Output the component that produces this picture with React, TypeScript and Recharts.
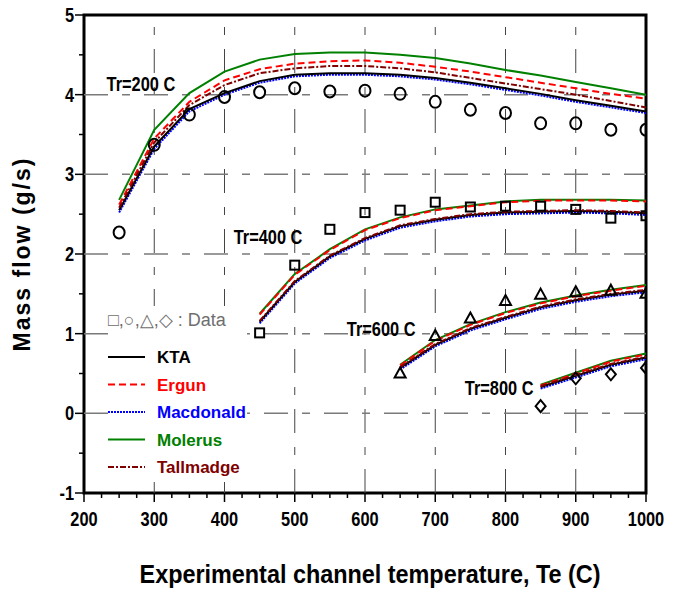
import {
  ComposedChart,
  Line,
  Scatter,
  XAxis,
  YAxis,
  ReferenceLine,
  ReferenceArea,
  ReferenceDot,
  Legend,
  Label,
} from 'recharts'

// experimental channel temperature for each reservoir temperature run
const TE_200 = [250, 300, 350, 400, 450, 500, 550, 600, 650, 700, 750, 800, 850, 900, 950, 1000]
const TE_400 = [450, 500, 550, 600, 650, 700, 750, 800, 850, 900, 950, 1000]
const TE_600 = [650, 700, 750, 800, 850, 900, 950, 1000]
const TE_800 = [850, 900, 950, 1000]

// model curves, Tr=200 C
const KTA_200 = [2.55, 3.35, 3.82, 4.02, 4.17, 4.25, 4.27, 4.27, 4.25, 4.21, 4.15, 4.08, 4.01, 3.93, 3.86, 3.79]
const MAC_200 = [2.52, 3.32, 3.79, 4.0, 4.15, 4.23, 4.25, 4.25, 4.23, 4.19, 4.13, 4.06, 3.99, 3.91, 3.84, 3.77]
const TALL_200 = [2.58, 3.4, 3.87, 4.12, 4.27, 4.33, 4.36, 4.36, 4.33, 4.28, 4.21, 4.14, 4.07, 4.0, 3.92, 3.84]
const ERG_200 = [2.62, 3.45, 3.91, 4.18, 4.32, 4.39, 4.42, 4.43, 4.4, 4.35, 4.29, 4.22, 4.15, 4.08, 4.01, 3.95]
const MOL_200 = [2.68, 3.56, 4.02, 4.29, 4.44, 4.51, 4.53, 4.53, 4.5, 4.46, 4.39, 4.31, 4.24, 4.16, 4.08, 4.0]

// Tr=400 C
const KTA_400 = [1.15, 1.65, 1.97, 2.19, 2.35, 2.43, 2.49, 2.52, 2.53, 2.54, 2.53, 2.51]
const MAC_400 = [1.13, 1.63, 1.95, 2.17, 2.33, 2.41, 2.47, 2.5, 2.51, 2.52, 2.51, 2.49]
const TALL_400 = [1.16, 1.66, 1.98, 2.2, 2.36, 2.44, 2.5, 2.53, 2.54, 2.55, 2.54, 2.52]
const ERG_400 = [1.24, 1.74, 2.05, 2.3, 2.45, 2.55, 2.6, 2.65, 2.67, 2.67, 2.67, 2.66]
const MOL_400 = [1.25, 1.75, 2.06, 2.31, 2.46, 2.56, 2.61, 2.66, 2.68, 2.68, 2.68, 2.67]

// Tr=600 C
const KTA_600 = [0.57, 0.86, 1.06, 1.2, 1.33, 1.42, 1.49, 1.54]
const MAC_600 = [0.55, 0.84, 1.04, 1.18, 1.31, 1.4, 1.47, 1.52]
const TALL_600 = [0.58, 0.87, 1.07, 1.21, 1.34, 1.43, 1.5, 1.55]
const ERG_600 = [0.6, 0.91, 1.11, 1.26, 1.38, 1.47, 1.54, 1.6]
const MOL_600 = [0.61, 0.92, 1.12, 1.27, 1.39, 1.48, 1.55, 1.61]

// Tr=800 C
const KTA_800 = [0.33, 0.47, 0.61, 0.7]
const MAC_800 = [0.31, 0.45, 0.59, 0.68]
const TALL_800 = [0.34, 0.48, 0.62, 0.71]
const ERG_800 = [0.35, 0.5, 0.65, 0.74]
const MOL_800 = [0.36, 0.51, 0.66, 0.75]

// measured data
const DATA_200 = [2.27, 3.37, 3.75, 3.97, 4.03, 4.08, 4.04, 4.05, 4.01, 3.91, 3.81, 3.77, 3.64, 3.64, 3.56, 3.56]
const DATA_400 = [1.01, 1.86, 2.31, 2.52, 2.55, 2.65, 2.59, 2.6, 2.6, 2.56, 2.45, 2.48]
const DATA_600 = [0.5, 0.97, 1.19, 1.41, 1.49, 1.52, 1.54, 1.5]
const DATA_800 = [0.09, 0.44, 0.49, 0.57]

const X_MAJOR = [200, 300, 400, 500, 600, 700, 800, 900, 1000]
const Y_TICKS = [-1, -0.5, 0, 0.5, 1, 1.5, 2, 2.5, 3, 3.5, 4, 4.5, 5]
const X_GRID = [300, 400, 500, 600, 700, 800, 900]
const Y_GRID = [0, 1, 2, 3, 4]

const SANS = "'Liberation Sans', Arial, sans-serif"

const seg = (te: number[], vals: number[]) => te.map((x, i) => ({ x, y: vals[i] }))
const GAP = { x: 1000, y: null }
const join = (...parts: { x: number; y: number | null }[][]) =>
  parts.reduce((acc, p, i) => (i === 0 ? [...p] : [...acc, GAP, ...p]), [] as { x: number; y: number | null }[])

const MODELS = [
  { name: 'Molerus', color: '#008000', dash: undefined, data: join(seg(TE_200, MOL_200), seg(TE_400, MOL_400), seg(TE_600, MOL_600), seg(TE_800, MOL_800)) },
  { name: 'Ergun', color: '#ff0000', dash: '7 4', data: join(seg(TE_200, ERG_200), seg(TE_400, ERG_400), seg(TE_600, ERG_600), seg(TE_800, ERG_800)) },
  { name: 'Macdonald', color: '#0000ff', dash: '2 1', data: join(seg(TE_200, MAC_200), seg(TE_400, MAC_400), seg(TE_600, MAC_600), seg(TE_800, MAC_800)) },
  { name: 'KTA', color: '#000000', dash: undefined, data: join(seg(TE_200, KTA_200), seg(TE_400, KTA_400), seg(TE_600, KTA_600), seg(TE_800, KTA_800)) },
  { name: 'Tallmadge', color: '#800000', dash: '6 2 2 2', data: join(seg(TE_200, TALL_200), seg(TE_400, TALL_400), seg(TE_600, TALL_600), seg(TE_800, TALL_800)) },
]

const LEGEND_ORDER = ['KTA', 'Ergun', 'Macdonald', 'Molerus', 'Tallmadge']

const X_TICKS = X_MAJOR.flatMap((t) => (t < 1000 ? [t, t + 25, t + 50, t + 75] : [t]))

// condensed bold text (no narrow face installed, so squeeze a regular one)
function NText({ x, y, size, sx = 0.82, anchor = 'middle', children }: any) {
  return (
    <text
      transform={`translate(${x},${y}) scale(${sx},1)`}
      textAnchor={anchor}
      fontFamily={SANS}
      fontWeight="bold"
      fontSize={size}
      fill="#000"
    >
      {children}
    </text>
  )
}

function XTick({ x, y, payload }: any) {
  const major = payload.value % 100 === 0
  return (
    <g>
      <line x1={x} y1={y} x2={x} y2={y + (major ? 9 : 5)} stroke="#000" strokeWidth={1.5} />
      {major && (
        <NText x={x} y={y + 33} size={20}>
          {payload.value}
        </NText>
      )}
    </g>
  )
}

function YTick({ x, y, payload }: any) {
  const major = Number.isInteger(payload.value)
  return (
    <g>
      <line x1={x - (major ? 9 : 5)} y1={y} x2={x} y2={y} stroke="#000" strokeWidth={1.5} />
      {major && (
        <NText x={x - 10} y={y + 7} size={20} anchor="end">
          {payload.value}
        </NText>
      )}
    </g>
  )
}

const marker = (kind: string) => (props: any) => {
  const { cx, cy } = props
  const s = { fill: 'none', stroke: '#000', strokeWidth: 2 }
  if (kind === 'circle') return <ellipse cx={cx} cy={cy} rx={5.5} ry={6} {...s} />
  if (kind === 'square') return <rect x={cx - 4.5} y={cy - 4.5} width={9} height={9} {...s} />
  if (kind === 'triangle') return <path d={`M${cx},${cy - 6} L${cx + 5.5},${cy + 4} L${cx - 5.5},${cy + 4} Z`} {...s} />
  return <path d={`M${cx},${cy - 6} L${cx + 5},${cy} L${cx},${cy + 6} L${cx - 5},${cy} Z`} {...s} />
}

function LegendBox() {
  return (
    <svg width={145} height={180} style={{ display: 'block' }}>
      <rect x={3} y={0} width={139} height={176} fill="#fff" />
      <text x={3} y={20} fontFamily={SANS} fontSize={18} fill="#6e6e6e">
        □,○,△,◇ : Data
      </text>
      {LEGEND_ORDER.map((name, i) => {
        const m = MODELS.find((d) => d.name === name)!
        const cy = 51 + i * 27.5
        return (
          <g key={name}>
            <line x1={3} x2={40} y1={cy} y2={cy} stroke={m.color} strokeWidth={2} strokeDasharray={m.dash} />
            <text x={52} y={cy + 6} fontFamily={SANS} fontWeight="bold" fontSize={17} fill={m.color}>
              {name}
            </text>
          </g>
        )
      })}
    </svg>
  )
}

const TR_LABELS = [
  { text: 'Tr=200 C', x: 281, y: 4.13 },
  { text: 'Tr=400 C', x: 462, y: 2.21 },
  { text: 'Tr=600 C', x: 623, y: 1.06 },
  { text: 'Tr=800 C', x: 791, y: 0.32 },
]

export default function App() {
  return (
    <div style={{ position: 'absolute', left: 0, top: 0, background: '#fff' }}>
      <ComposedChart width={678} height={590} margin={{ top: 15, right: 32, bottom: 0, left: 0 }}>
        <XAxis
          type="number"
          dataKey="x"
          domain={[200, 1000]}
          ticks={X_TICKS}
          interval={0}
          allowDataOverflow
          axisLine={false}
          tickLine={false}
          tickSize={0}
          tickMargin={0}
          tick={<XTick />}
          height={97}
        >
          <Label
            content={({ viewBox }: any) => (
              <NText x={viewBox.x + viewBox.width / 2 + 5} y={viewBox.y + viewBox.height - 7} size={26} sx={0.9}>
                Experimental channel temperature, Te (C)
              </NText>
            )}
          />
        </XAxis>
        <YAxis
          type="number"
          domain={[-1, 5]}
          ticks={Y_TICKS}
          interval={0}
          allowDataOverflow
          axisLine={false}
          tickLine={false}
          tickSize={0}
          tickMargin={0}
          tick={<YTick />}
          width={84}
        >
          <Label
            value="Mass flow (g/s)"
            angle={-90}
            position="insideLeft"
            offset={22}
            style={{ textAnchor: 'middle', fontFamily: SANS, fontWeight: 'bold', fontSize: 23, letterSpacing: 2, fill: '#000' }}
          />
        </YAxis>

        {X_GRID.map((v) => (
          <ReferenceLine key={'gx' + v} x={v} stroke="#444" strokeWidth={1} strokeDasharray="24 14 8 14" />
        ))}
        {Y_GRID.map((v) => (
          <ReferenceLine key={'gy' + v} y={v} stroke="#7a7a7a" strokeWidth={1.5} strokeDasharray="24 14 8 14" />
        ))}
        <ReferenceArea x1={200} x2={1000} y1={-1} y2={5} fill="none" stroke="#000" strokeWidth={3} />

        {MODELS.map((m) => (
          <Line
            key={m.name}
            data={m.data}
            dataKey="y"
            type="linear"
            stroke={m.color}
            strokeWidth={2}
            strokeDasharray={m.dash}
            dot={false}
            activeDot={false}
            connectNulls={false}
            legendType="none"
            isAnimationActive={false}
          />
        ))}

        <Scatter data={seg(TE_200, DATA_200)} dataKey="y" shape={marker('circle')} legendType="none" isAnimationActive={false} />
        <Scatter data={seg(TE_400, DATA_400)} dataKey="y" shape={marker('square')} legendType="none" isAnimationActive={false} />
        <Scatter data={seg(TE_600, DATA_600)} dataKey="y" shape={marker('triangle')} legendType="none" isAnimationActive={false} />
        <Scatter data={seg(TE_800, DATA_800)} dataKey="y" shape={marker('diamond')} legendType="none" isAnimationActive={false} />

        {TR_LABELS.map((l) => (
          <ReferenceDot
            key={l.text}
            x={l.x}
            y={l.y}
            r={1}
            shape={(p: any) => (
              <NText x={p.cx} y={p.cy + 7} size={20}>
                {l.text}
              </NText>
            )}
          />
        ))}

        <Legend
          layout="vertical"
          align="center"
          verticalAlign="middle"
          wrapperStyle={{ left: 105, top: 306, width: 145, height: 180 }}
          content={() => <LegendBox />}
        />
      </ComposedChart>
    </div>
  )
}
